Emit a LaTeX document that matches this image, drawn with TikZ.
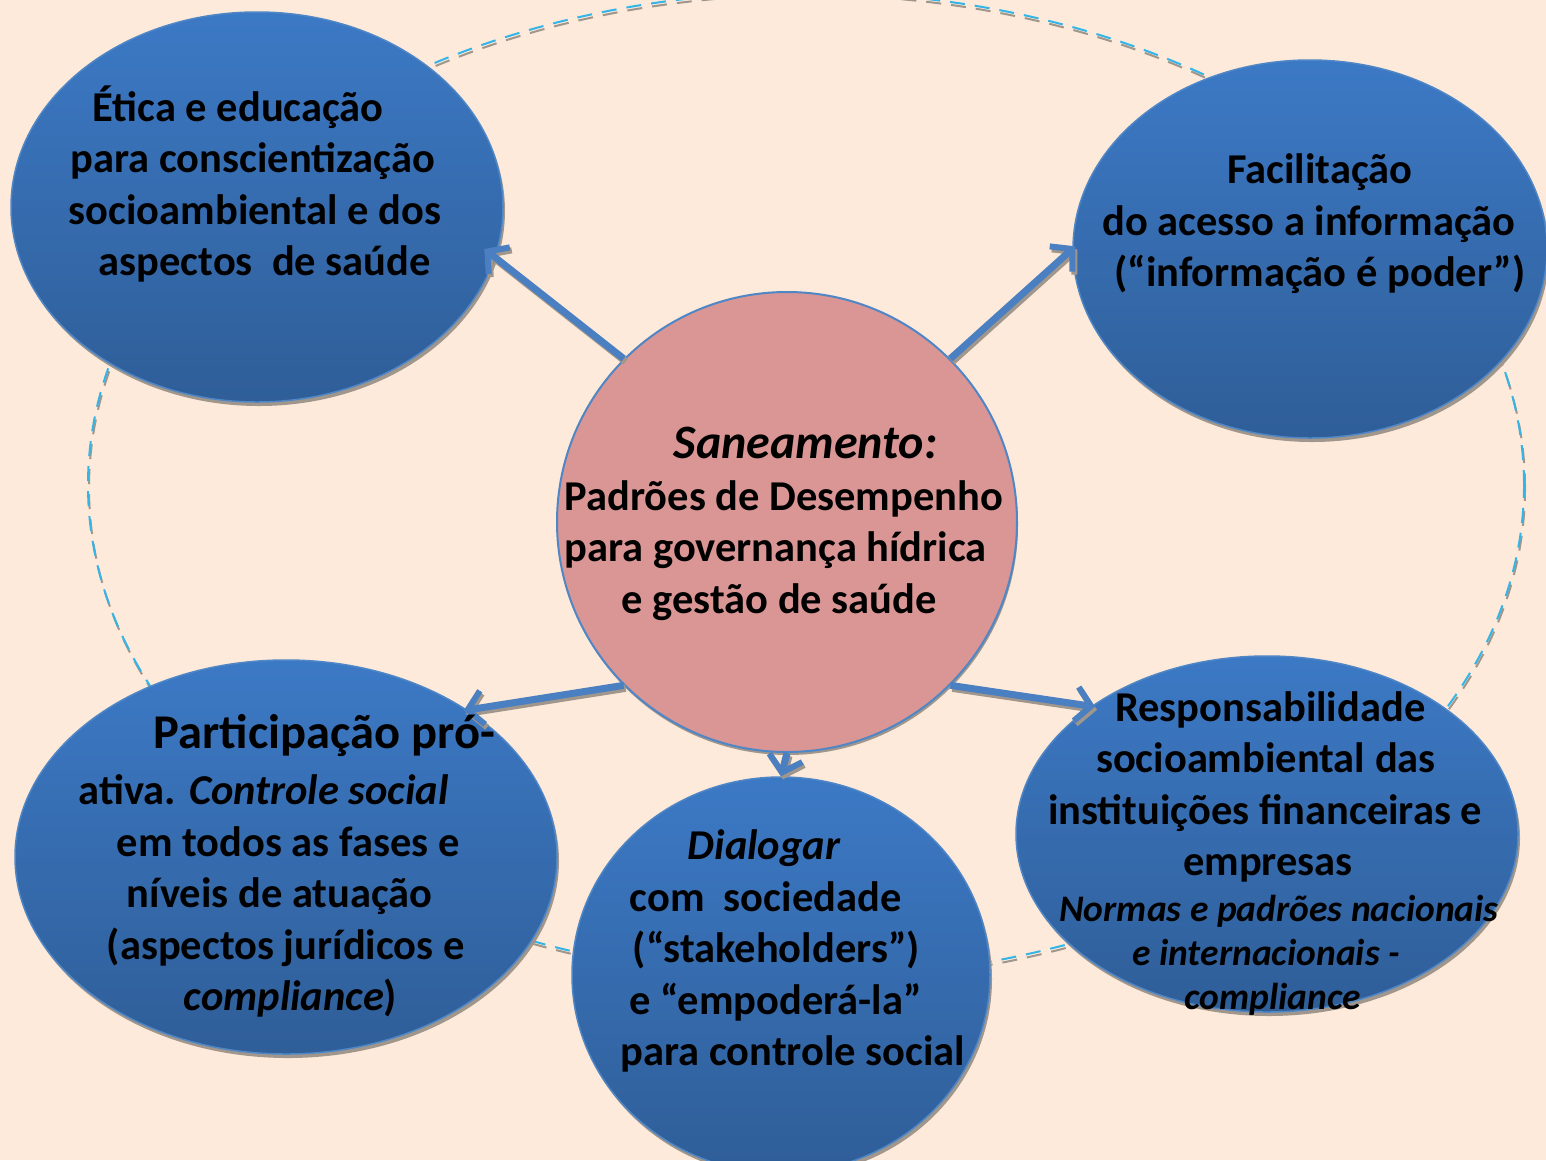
\documentclass[tikz,border=0pt]{standalone}
\usepackage{fontspec}
\setmainfont{Carlito}
\usetikzlibrary{arrows.meta,shapes.geometric,shadows}
\definecolor{bg}{HTML}{FDEADA}
\definecolor{pinkc}{HTML}{D99694}
\definecolor{btop}{HTML}{3C79C5}
\definecolor{bbot}{HTML}{2F5E98}
\definecolor{bedge}{HTML}{4F86C6}
\definecolor{arrblue}{HTML}{4A7FC1}
\definecolor{dashblue}{HTML}{33B5E8}
\definecolor{shgray}{HTML}{A0968C}
\tikzset{
  bubble/.style={ellipse, inner sep=0pt, draw=bedge, line width=1.5pt,
    top color=btop, bottom color=bbot,
    drop shadow={shadow xshift=2pt, shadow yshift=-4pt, fill=shgray, opacity=1}},
  hub/.style={circle, inner sep=0pt, draw=bedge, line width=2pt, fill=pinkc,
    drop shadow={shadow xshift=1pt, shadow yshift=-3pt, fill=shgray, opacity=1}},
  txt/.style={font=\bfseries\fontsize{42.5}{51.5}\selectfont, align=left, text=black, inner sep=0pt},
  smalltxt/.style={font=\bfseries\itshape\fontsize{37.5}{44}\selectfont, align=left, text=black, inner sep=0pt},
  arr/.style={line width=7pt, draw=arrblue,
    -{Straight Barb[length=15pt, width=34pt, line width=6pt]},
    preaction={draw=shgray, line width=7pt, -{Straight Barb[length=15pt, width=34pt, line width=6pt]},
      transform canvas={shift={(2pt,-3pt)}}}},
  dashring/.style={line width=2pt, dash pattern=on 15pt off 10pt}
}
\begin{document}
\begin{tikzpicture}[x=1pt,y=-1pt]
\fill[bg] (0,0) rectangle (1546,1160);
\useasboundingbox (0,0) rectangle (1546,1160);
% dashed ring
\draw[dashring, shgray] (807,488) ellipse [x radius=718pt, y radius=493pt];
\draw[dashring, dashblue] (806,485) ellipse [x radius=718pt, y radius=493pt];
% shapes
\node[bubble, minimum width=492pt, minimum height=390pt] (tl) at (257,207) {};
\node[bubble, minimum width=474pt, minimum height=378pt] (tr) at (1310,249) {};
\node[bubble, minimum width=542pt, minimum height=394pt] (bl) at (286,857) {};
\node[bubble, minimum width=418pt, minimum height=396pt] (bm) at (781,975) {};
\node[bubble, minimum width=502pt, minimum height=356pt] (br) at (1267,834) {};
\node[hub, minimum size=460pt] (c) at (787,522) {};
% arrows
\draw[arr, shorten >=-14pt] (c.135) -- (tl.-12);
\draw[arr, shorten >=-4pt] (c.45) -- (tr.180);
\draw[arr, shorten >=-4pt] (c.225) -- (bl.39);
\draw[arr, shorten >=-4pt] (c.315) -- (br.144);
\draw[arr] (c.270) -- (bm.north);
% texts
\node[txt] (ttl) at (255,184) {\hspace*{24pt}Ética e educação\\ \hspace*{2pt}para conscientização\\ socioambiental e dos\\ \hspace*{30pt}aspectos\ \ de saúde};
\node[txt] (ttr) at (1314,224) {\hspace*{125pt}Facilitação\\ do acesso a informação\\ \hspace*{12pt}(“informação é poder”)};
\node[txt] (tc) at (784,524) {\hspace*{109pt}{\fontsize{48}{51.5}\selectfont\textit{Saneamento:}}\\ Padrões de Desempenho\\ para governança hídrica\\ \hspace*{57pt}e gestão de saúde};
\node[txt] (tbl) at (287,866) {\hspace*{75pt}{\fontsize{48.5}{51.5}\selectfont Participação pró-}\\[5pt] ativa.\hspace{13pt}\textit{Controle social}\\ \hspace*{38pt}em todos as fases e\\ \hspace*{48pt}níveis de atuação\\ \hspace*{28pt}(aspectos jurídicos e\\ \hspace*{105pt}\textit{compliance})};
\node[txt] (tbm) at (793,951) {\hspace*{67pt}\textit{Dialogar}\\ \hspace*{9pt}com\ \ sociedade\\ \hspace*{12pt}(“stakeholders”)\\ \hspace*{9pt}e “empoderá-la”\\ para controle social};
\node[txt] (tbr) at (1265,787) {\hspace*{67pt}Responsabilidade\\ \hspace*{48pt}socioambiental das\\ instituições financeiras e\\ \hspace*{135pt}empresas};
\node[smalltxt] (tbr2) at (1279,955) {Normas e padrões nacionais\\ \hspace*{73pt}e internacionais -\\ \hspace*{125pt}compliance};
\end{tikzpicture}
\end{document}
